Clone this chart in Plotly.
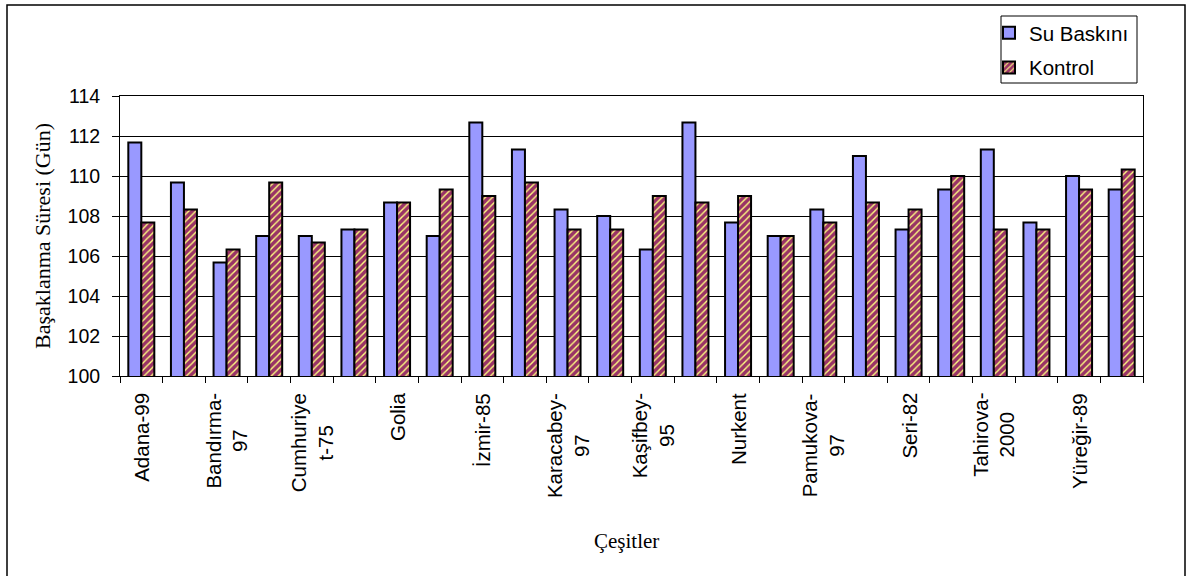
import plotly.graph_objects as go

# Çeşit adları (her ikinci grup etiketli)
cesit_etiketleri = [
    "Adana-99", "Bandırma-<br>97", "Cumhuriye<br>t-75", "Golia", "İzmir-85",
    "Karacabey-<br>97", "Kaşifbey-<br>95", "Nurkent", "Pamukova-<br>97",
    "Seri-82", "Tahirova-<br>2000", "Yüreğir-89",
]

# Başaklanma süreleri (gün)
su_baskini = [111.67, 109.67, 105.67, 107.0, 107.0, 107.33, 108.67, 107.0,
              112.67, 111.33, 108.33, 108.0, 106.33, 112.67, 107.67, 107.0,
              108.33, 111.0, 107.33, 109.33, 111.33, 107.67, 110.0, 109.33]
kontrol = [107.67, 108.33, 106.33, 109.67, 106.67, 107.33, 108.67, 109.33,
           109.0, 109.67, 107.33, 107.33, 109.0, 108.67, 109.0, 107.0,
           107.67, 108.67, 108.33, 110.0, 107.33, 107.33, 109.33, 110.33]

y_araligi = [100, 114]
y_adim = 2

SANS = "Liberation Sans, Arial, sans-serif"
SERIF = "Liberation Serif, Times New Roman, serif"

W, H = 1190, 576
L, R, T, B = 120, 47, 96, 200
pw, ph = W - L - R, H - T - B


def px_x(p):
    return (p - L) / pw


def px_y(p):
    return (T + ph - p) / ph


n = len(su_baskini)
x = list(range(n))

fig = go.Figure()
fig.add_trace(go.Bar(
    x=x, y=su_baskini, name="Su Baskını", legendgroup="a",
    marker=dict(color="#9999FF", line=dict(color="black", width=2)),
))
fig.add_trace(go.Bar(
    x=x, y=kontrol, name="Kontrol", legendgroup="b",
    marker=dict(
        color="#993366",
        line=dict(color="black", width=2),
        pattern=dict(shape="/", fgcolor="#FFFF80", bgcolor="#993366",
                     size=5, solidity=0.28, fillmode="replace"),
    ),
))

# x ekseni etiketleri (dikey, ortalanmış satırlar)
annotations = []
for i, etiket in enumerate(cesit_etiketleri):
    annotations.append(dict(
        x=2 * i, y=0, xref="x", yref="paper", text=etiket, showarrow=False,
        textangle=-90, xanchor="center", yanchor="top", yshift=-15,
        align="center", font=dict(family=SANS, size=20.5, color="black"),
    ))

# eksen başlıkları
annotations.append(dict(
    x=px_x(42), y=0.5, xref="paper", yref="paper",
    text="Başaklanma Süresi (Gün)", showarrow=False, textangle=-90,
    xanchor="center", yanchor="middle",
    font=dict(family=SERIF, size=22, color="black"),
))
annotations.append(dict(
    x=px_x(626), y=px_y(541), xref="paper", yref="paper",
    text="Çeşitler", showarrow=False, xanchor="center", yanchor="middle",
    font=dict(family=SERIF, size=21, color="black"),
))

shapes = [
    # dış çerçeve
    dict(type="rect", xref="paper", yref="paper",
         x0=px_x(7), x1=px_x(1185), y0=px_y(590), y1=px_y(5),
         line=dict(color="black", width=1.5), fillcolor="rgba(0,0,0,0)",
         layer="below"),
    # lejant çerçevesi
    dict(type="rect", xref="paper", yref="paper",
         x0=px_x(1001), x1=px_x(1137), y0=px_y(83), y1=px_y(16),
         line=dict(color="black", width=1), fillcolor="rgba(0,0,0,0)",
         layer="above"),
]

fig.update_layout(
    width=W, height=H,
    margin=dict(l=L, r=R, t=T, b=B),
    paper_bgcolor="white", plot_bgcolor="white",
    barmode="group", bargap=0.39, bargroupgap=0,
    showlegend=True,
    legend=dict(
        x=px_x(989), y=px_y(13), xanchor="left", yanchor="top",
        borderwidth=0, bgcolor="rgba(0,0,0,0)",
        font=dict(family=SANS, size=20.5, color="black"),
        traceorder="grouped", tracegroupgap=5, itemwidth=30,
    ),
    annotations=annotations,
    shapes=shapes,
)

fig.update_xaxes(
    range=[-0.5, n - 0.5], showticklabels=False, ticks="",
    showline=True, linecolor="black", linewidth=1, mirror=True,
    showgrid=False, zeroline=False,
    minor=dict(tickmode="linear", tick0=-0.5, dtick=1, ticks="outside",
               ticklen=6, tickcolor="black", tickwidth=1, showgrid=False),
)
fig.update_yaxes(
    range=y_araligi, dtick=y_adim, tick0=y_araligi[0],
    ticks="outside", ticklen=7, tickcolor="black", tickwidth=1,
    showline=True, linecolor="black", linewidth=1, mirror=True,
    showgrid=True, gridcolor="black", gridwidth=1, zeroline=False,
    tickfont=dict(family=SANS, size=19.5, color="black"),
    ticklabelstandoff=8,
)

fig.write_html("out.html")
